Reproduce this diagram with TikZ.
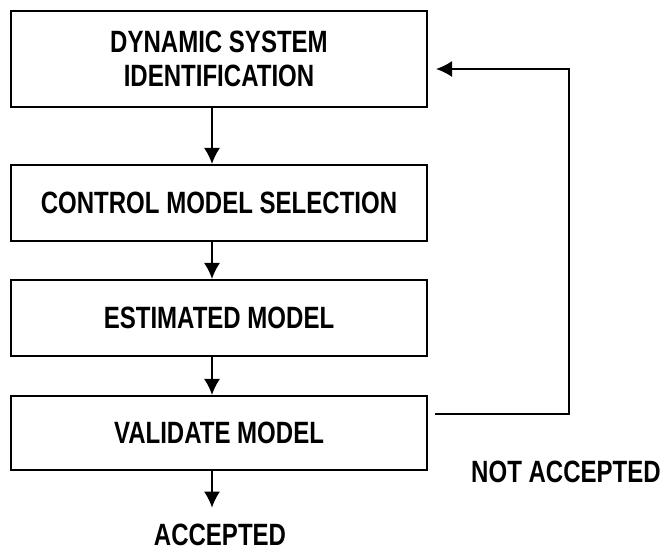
\documentclass[tikz,border=0pt]{standalone}
\usepackage{fontspec}
\setmainfont{Liberation Sans}[FakeStretch=0.78]
\usetikzlibrary{positioning,arrows.meta}
\tikzset{
    stage/.style={draw, line width=1pt, minimum width=208pt, align=center,
        font=\bfseries\fontsize{15.4}{17}\selectfont},
    flow/.style={-{Latex[length=8pt,width=8pt]}, line width=0.9pt},
    verdict/.style={inner sep=0pt, font=\bfseries\fontsize{15.4}{17}\selectfont}
}
\begin{document}
\begin{tikzpicture}[x=0.5pt,y=-0.5pt]
        \useasboundingbox (0,0) rectangle (660,549);
        \node[stage, minimum height=48pt] (ident) at (219,59) {DYNAMIC SYSTEM\\IDENTIFICATION};
        \node[stage, minimum height=38pt] (select) at (219,203) {CONTROL MODEL SELECTION};
        \node[stage, minimum height=38pt] (estim) at (219,318) {ESTIMATED MODEL};
        \node[stage, minimum height=37pt] (valid) at (219,433) {VALIDATE MODEL};
        \node[verdict] (accept) at (220,535) {ACCEPTED};
        \node[verdict] (reject) at (566,472) {NOT ACCEPTED};

        \coordinate (spine) at (212,0);
        \foreach \a/\b in {ident/select, select/estim, estim/valid}
            \draw[flow] (\a.south -| spine) -- (\b.north -| spine);
        \draw[flow, shorten >=8pt] (valid.south -| spine) -- (accept.north -| spine);

        % back to identification
        \coordinate (fbk) at (569,414);
        \coordinate (ret) at (569,69);
        \draw[flow] ([xshift=3.5pt]valid.east |- fbk) -- (fbk) -- (ret) -- ([xshift=4pt]ident.east |- ret);
    \end{tikzpicture}
\end{document}
